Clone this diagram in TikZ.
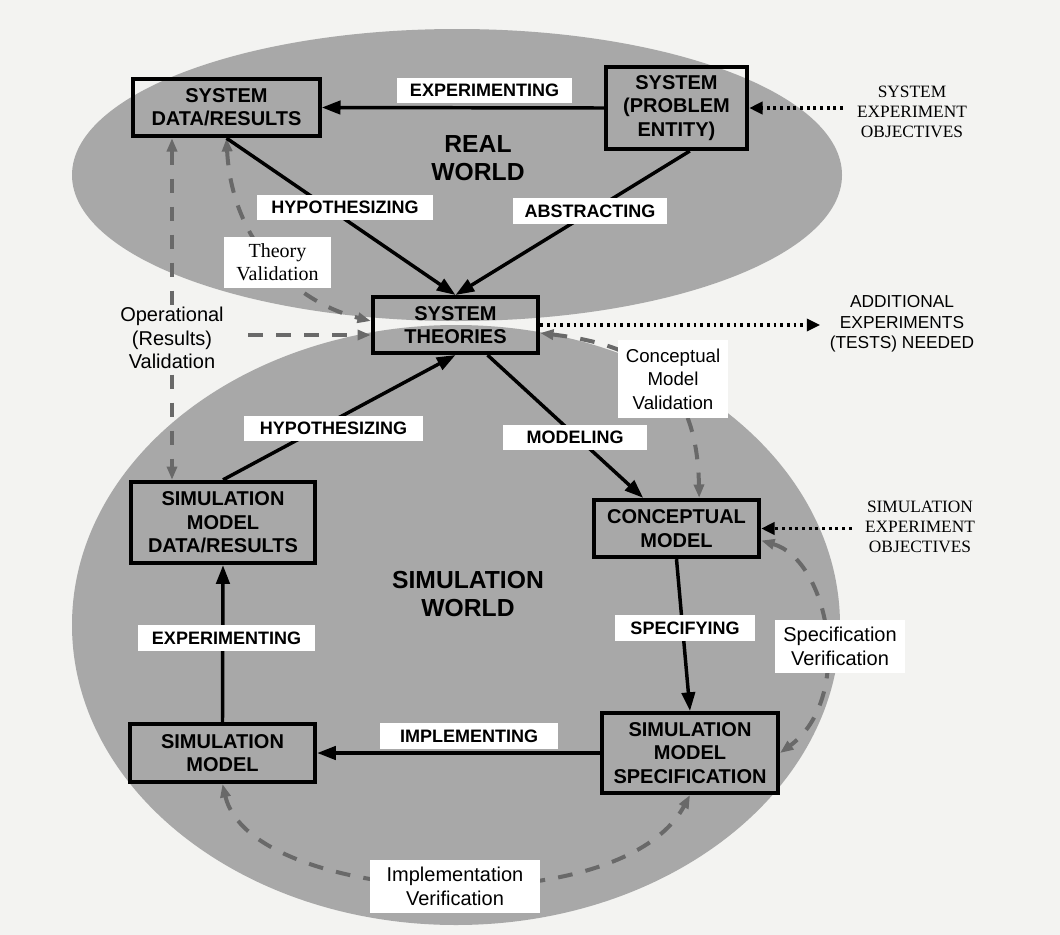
\documentclass[tikz,border=0pt]{standalone}
\usepackage{fontspec}
\setmainfont{Liberation Sans}
\newfontfamily\serifA{Liberation Serif}
\usetikzlibrary{arrows.meta,calc}
\definecolor{bgc}{RGB}{243,243,241}
\definecolor{ellc}{RGB}{168,168,168}
\definecolor{dashc}{RGB}{105,105,105}
\begin{document}
\begin{tikzpicture}[x=0.75pt,y=-0.75pt,
  box/.style={draw=black, line width=3pt, align=center, inner sep=0pt,
    font=\fontsize{15}{17.5}\selectfont\bfseries},
  lab/.style={fill=white, inner sep=0pt, minimum height=19pt,
    font=\fontsize{13.5}{16}\selectfont\bfseries},
  note/.style={align=center, inner sep=2pt, font=\fontsize{15}{17.5}\selectfont},
  snote/.style={align=center, inner sep=0pt, font=\fontsize{13}{15.5}\selectfont},
  world/.style={align=center, inner sep=0pt, font=\fontsize{18.5}{20.5}\selectfont\bfseries},
  flow/.style={line width=2.6pt, -{Triangle[length=14pt,width=10pt]}},
  val/.style={draw=dashc, line width=3pt, dash pattern=on 11pt off 10pt,
    {Triangle[length=10pt,width=7.5pt]}-{Triangle[length=10pt,width=7.5pt]}},
  valone/.style={draw=dashc, line width=3pt, dash pattern=on 11pt off 10pt,
    -{Triangle[length=10pt,width=7.5pt]}},
  dotarrow/.style={line width=2.6pt, dash pattern=on 2.2pt off 2.8pt,
    -{Triangle[length=10pt,width=9pt]}}
]
\fill[bgc] (0,0) rectangle (1060,935);
\useasboundingbox (0,0) rectangle (1060,935);

% worlds
\fill[ellc] (457,175) ellipse [x radius=288.75pt, y radius=109.5pt];
\fill[ellc] (456,625) ellipse [x radius=288pt, y radius=225pt];

% boxes
\node[box, minimum width=140pt, minimum height=43pt] (sdr) at (226.5,107.5) {SYSTEM\\DATA/RESULTS};
\node[box, minimum width=106pt, minimum height=61.5pt] (sys) at (676.5,108) {SYSTEM\\(PROBLEM\\ENTITY)};
\node[box, minimum width=124pt, minimum height=42pt] (th) at (455.5,325) {SYSTEM\\THEORIES};
\node[box, minimum width=138pt, minimum height=61pt] (smd) at (223,522.5) {SIMULATION\\MODEL\\DATA/RESULTS};
\node[box, minimum width=124pt, minimum height=43pt] (cm) at (676.5,528.5) {CONCEPTUAL\\MODEL};
\node[box, minimum width=139pt, minimum height=43.5pt] (sm) at (222.5,753) {SIMULATION\\MODEL};
\node[box, minimum width=132pt, minimum height=60pt] (sms) at (690,753) {SIMULATION\\MODEL\\SPECIFICATION};

% world titles
\node[world] (rw) at (478,158) {REAL\\WORLD};
\node[world] (sw) at (468,594) {SIMULATION\\WORLD};

% outside notes
\node[snote, font=\fontsize{13}{15}\selectfont\serifA] (seo) at (912,112) {SYSTEM\\EXPERIMENT\\OBJECTIVES};
\node[snote] (aen) at (902,324) {ADDITIONAL\\EXPERIMENTS\\(TESTS) NEEDED};
\node[snote, font=\fontsize{13}{15}\selectfont\serifA] (simo) at (920,527) {SIMULATION\\EXPERIMENT\\OBJECTIVES};
\coordinate (ops) at (248,335);

% validation / verification (dashed)
\draw[val] (sdr.south) .. controls +(5,100) and +(-80,-20) .. ([yshift=3pt]th.west);
\draw[val] (172,0 |- sdr.south) -- (172,0 |- smd.north);
\draw[valone] (ops) -- ([yshift=-7.5pt]th.west);
\draw[val] ([yshift=-6pt]th.east) .. controls +(100,12) and +(-2,-120) .. ([xshift=17pt]cm.north);
\draw[val] ([yshift=-9pt]cm.east) .. controls +(68,20) and +(75,-55) .. (sms.east);
\draw[val] (sm.south) .. controls +(28,120) and +(-70,130) .. (sms.south);

% dotted
\draw[dotarrow, shorten <=10.5pt] (seo.west |- sys.east) -- (sys.east);
\draw[dotarrow, shorten >=7pt] (th.east) -- (aen.west |- th.east);
\draw[dotarrow, shorten <=10pt] (simo.west |- cm.east) -- (cm.east);

% flows
\draw[flow] (sys.west) -- (sdr.east);
\draw[flow] (sdr.south) -- (th.north);
\draw[flow] ([xshift=10pt]sys.south) -- (th.north);
\draw[flow] (smd.north) -- (th.south);
\draw[flow] ([xshift=24pt]th.south) -- ([xshift=-25pt]cm.north);
\draw[flow] (cm.south) -- (sms.north);
\draw[flow] (sms.west) -- (sm.east);
\draw[flow] (sm.north) -- (smd.south);

% flow labels
\node[lab, minimum width=131pt] (lexp1) at (484.5,90.5) {EXPERIMENTING};
\node[lab, minimum width=132pt] (lhyp1) at (345,207.5) {HYPOTHESIZING};
\node[lab, minimum width=115.5pt] (labs) at (590,211) {ABSTRACTING};
\node[lab, minimum width=134pt] (lhyp2) at (333.5,428.5) {HYPOTHESIZING};
\node[lab, minimum width=108pt] (lmod) at (575,437.5) {MODELING};
\node[lab, minimum width=105pt] (lspec) at (685,628) {SPECIFYING};
\node[lab, minimum width=133.5pt] (limp) at (469,736) {IMPLEMENTING};
\node[lab, minimum width=133pt] (lexp2) at (226.5,638) {EXPERIMENTING};

% validation labels
\node[note, fill=white, minimum width=80pt, minimum height=38pt, font=\fontsize{15}{17.5}\selectfont\serifA] (tv) at (277.5,262.5) {Theory\\Validation};
\node[note, fill=bgc] (opl) at (172,338) {Operational\\(Results)\\Validation};
\node[note, fill=white, minimum width=82.5pt, minimum height=58.5pt, font=\fontsize{14}{17.5}\selectfont] (cmv) at (673,379) {Conceptual\\Model\\Validation};
\node[note, fill=white, minimum width=97.5pt, minimum height=40pt] (sv) at (840,646.5) {Specification\\Verification};
\node[note, fill=white, minimum width=127.5pt, minimum height=40pt] (iv) at (455,886.5) {Implementation\\Verification};
\end{tikzpicture}
\end{document}
